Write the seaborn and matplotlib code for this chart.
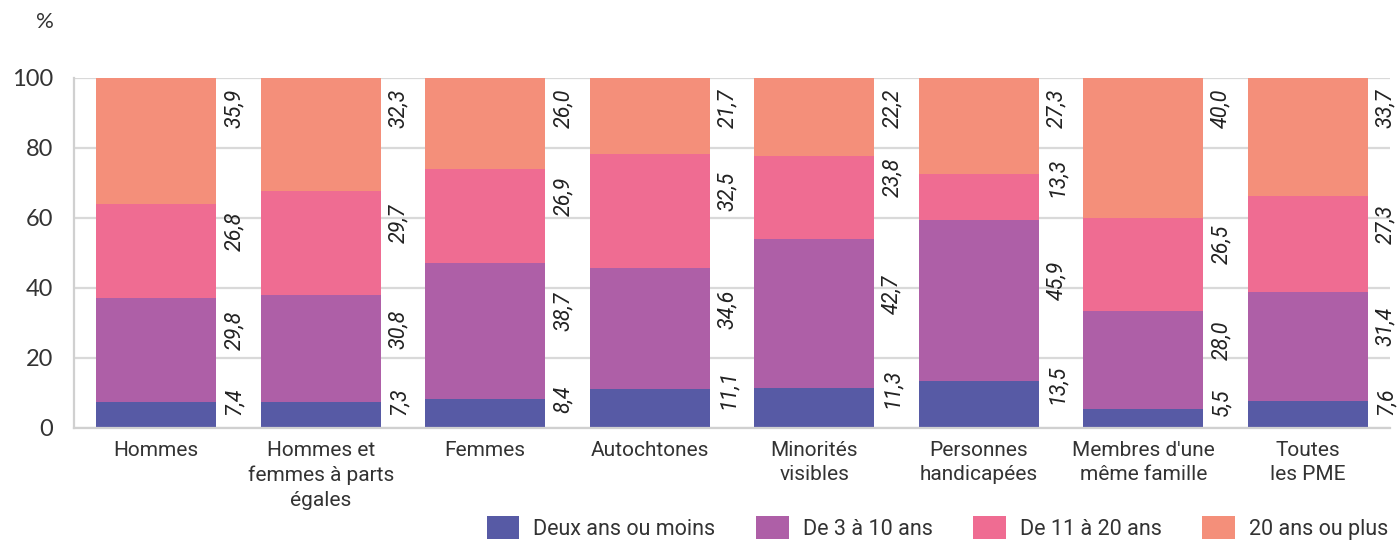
import matplotlib
matplotlib.use("Agg")
import matplotlib.pyplot as plt
import seaborn as sns
import numpy as np
import pandas as pd
from matplotlib.patches import Patch

categories = ["Hommes", "Hommes et\nfemmes à parts\négales", "Femmes", "Autochtones",
              "Minorités\nvisibles", "Personnes\nhandicapées", "Membres d'une\nmême famille",
              "Toutes\nles PME"]
series_names = ["Deux ans ou moins", "De 3 à 10 ans", "De 11 à 20 ans", "20 ans ou plus"]
deux_ans = [7.4, 7.3, 8.4, 11.1, 11.3, 13.5, 5.5, 7.6]
de_3_10 = [29.8, 30.8, 38.7, 34.6, 42.7, 45.9, 28.0, 31.4]
de_11_20 = [26.8, 29.7, 26.9, 32.5, 23.8, 13.3, 26.5, 27.3]
plus_20 = [35.9, 32.3, 26.0, 21.7, 22.2, 27.3, 40.0, 33.7]
colors = ["#575AA5", "#AE5FA7", "#EF6C92", "#F48F7A"]
yticks = [0, 20, 40, 60, 80, 100]

sns.set_theme(style="white")
plt.rcParams['font.family'] = ['Roboto', 'DejaVu Sans']

series = [deux_ans, de_3_10, de_11_20, plus_20]
cum = np.cumsum(np.array(series), axis=0)

fig = plt.figure(figsize=(14, 5.42), dpi=100)
ax = fig.add_axes([74/1400, 1 - 428/542, (1390-74)/1400, (428-78)/542])

# draw cumulative bars from top layer down
for k in range(3, -1, -1):
    df = pd.DataFrame({"cat": categories, "val": cum[k]})
    sns.barplot(data=df, x="cat", y="val", color=colors[k], saturation=1,
                width=0.73, linewidth=0, ax=ax, order=categories)

ax.set_ylim(0, 100)
ax.set_xlim(-0.5, len(categories) - 0.5)
ax.set_yticks(yticks)
ax.set_yticklabels([str(t) for t in yticks], fontfamily=['Lato', 'DejaVu Sans'],
                   fontsize=17, color="#333333")
ax.set_xlabel("")
ax.set_ylabel("")
ax.set_axisbelow(True)
ax.grid(axis="y", color="#d9d9d9", linewidth=1.6)
ax.grid(axis="x", visible=False)
for s in ["top", "right"]:
    ax.spines[s].set_visible(False)
for s in ["left", "bottom"]:
    ax.spines[s].set_color("#d0d0d0")
    ax.spines[s].set_linewidth(1.6)
ax.tick_params(axis="y", length=0, pad=15)
ax.tick_params(axis="x", which="major", length=0, pad=9, labelsize=15, labelcolor="#333333")
ax.set_xticks(np.arange(len(categories)) + 0.5, minor=True)
ax.tick_params(axis="x", which="minor", direction="in", length=10, width=1.4, color="#d0d0d0")
for lab in ax.get_xticklabels():
    lab.set_linespacing(1.4)

# value labels
for i in range(len(categories)):
    for k in range(4):
        v = series[k][i]
        lo = cum[k][i] - v
        txt = f"{v:.1f}".replace(".", ",")
        if k == 3:
            y, va = 97, "top"
        else:
            y, va = max(lo + v / 2, 3.5), "bottom"
        ax.text(i + 0.475, y, txt, rotation=90, ha="center", va=va, fontsize=15.5,
                fontstyle="italic", color="#222222", clip_on=False)

fig.text(45/1400, 1 - 22/542, "%", ha="center", va="center", fontsize=16,
         color="#333333", fontfamily=['Lato', 'DejaVu Sans'])

handles = [Patch(facecolor=c, edgecolor="none") for c in colors]
fig.legend(handles, series_names, loc="center right", bbox_to_anchor=(1388/1400, 14/542),
           ncol=4, frameon=False, fontsize=15.5, handlelength=1.5, handleheight=1.3,
           handletextpad=0.65, columnspacing=1.9, borderpad=0, borderaxespad=0,
           labelcolor="#333333")

fig.savefig("out.png", dpi=100)
